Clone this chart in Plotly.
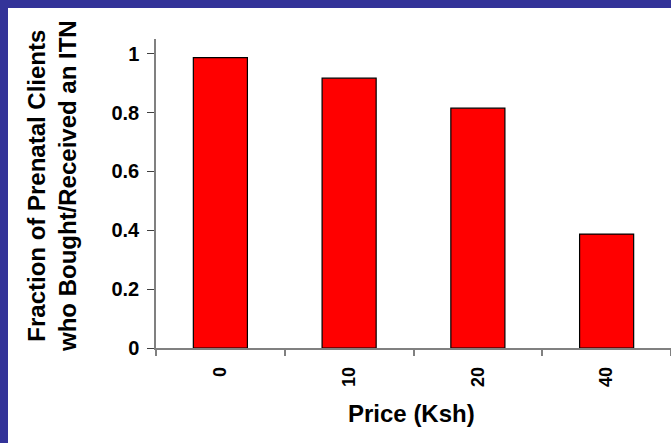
import plotly.graph_objects as go

# Data
prices = ["0", "10", "20", "40"]
fractions = [0.987, 0.917, 0.815, 0.387]
y_ticks = [0, 0.2, 0.4, 0.6, 0.8, 1]
y_tick_labels = ["0", "0.2", "0.4", "0.6", "0.8", "1"]

W, H = 671, 443
ML, MR, MT, MB = 156, 0, 39, 95
PW, PH = W - ML - MR, H - MT - MB

def px_x(px):
    return (px - ML) / PW

def px_y(py):
    return (H - MB - py) / PH

FONT = "Arial, Liberation Sans, sans-serif"
BLUE = "#333399"

fig = go.Figure(go.Bar(
    x=prices, y=fractions,
    marker=dict(color="#FF0000", line=dict(color="#000000", width=1.2)),
))

fig.update_layout(
    width=W, height=H,
    margin=dict(l=ML, r=MR, t=MT, b=MB, pad=0),
    paper_bgcolor="white", plot_bgcolor="white",
    bargap=0.58, showlegend=False,
    font=dict(family=FONT, color="black"),
    shapes=[
        dict(type="rect", xref="paper", yref="paper", layer="above",
             x0=px_x(0), x1=px_x(8), y0=px_y(H), y1=px_y(0),
             fillcolor=BLUE, line=dict(width=0)),
        dict(type="rect", xref="paper", yref="paper", layer="above",
             x0=px_x(0), x1=px_x(W), y0=px_y(8), y1=px_y(0),
             fillcolor=BLUE, line=dict(width=0)),
    ],
    annotations=[
        dict(text="<b>Fraction of Prenatal Clients<br>who Bought/Received an ITN</b>",
             xref="paper", yref="paper", x=px_x(52), y=px_y(186),
             xanchor="center", yanchor="middle", textangle=-90, showarrow=False,
             font=dict(family=FONT, size=24, color="black")),
        dict(text="<b>Price (Ksh)</b>",
             xref="paper", yref="paper", x=px_x(411), y=px_y(413),
             xanchor="center", yanchor="middle", showarrow=False,
             font=dict(family=FONT, size=24, color="black")),
    ],
)

fig.update_xaxes(
    type="category", tickangle=-90, tickson="boundaries",
    ticks="outside", ticklen=6, tickcolor="#808080", tickwidth=1.5,
    showline=True, linecolor="#808080", linewidth=1.5,
    showgrid=False, zeroline=False,
    tickfont=dict(family=FONT, size=18, color="black", weight="bold"),
    ticklabelstandoff=10,
)
fig.update_yaxes(
    range=[0, 1.05], tickvals=y_ticks, ticktext=y_tick_labels,
    ticks="outside", ticklen=7, tickcolor="#404040", tickwidth=1.2,
    showline=True, linecolor="#808080", linewidth=1.5,
    showgrid=False, zeroline=False,
    tickfont=dict(family=FONT, size=20, color="black", weight="bold"),
    ticklabelstandoff=4,
)

fig.write_html("out.html")
